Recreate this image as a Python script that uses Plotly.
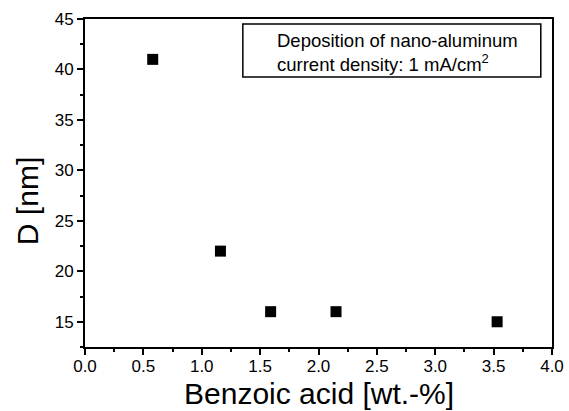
import plotly.graph_objects as go

benzoic_acid = [0.58, 1.16, 1.59, 2.15, 3.53]
diameter_nm = [41, 22, 16, 16, 15]

x_tick_vals = [0.0, 0.5, 1.0, 1.5, 2.0, 2.5, 3.0, 3.5, 4.0]
x_tick_text = ["0.0", "0.5", "1.0", "1.5", "2.0", "2.5", "3.0", "3.5", "4.0"]
y_tick_vals = [15, 20, 25, 30, 35, 40, 45]
y_tick_text = ["15", "20", "25", "30", "35", "40", "45"]

FONT = "Liberation Sans, Arial, sans-serif"

fig = go.Figure()
fig.add_trace(go.Scatter(
    x=benzoic_acid, y=diameter_nm, mode="markers",
    marker=dict(symbol="square", size=11, color="black"),
    showlegend=False, hoverinfo="skip",
))

axis_common = dict(
    showline=True, linecolor="black", linewidth=2, mirror=True,
    ticks="outside", ticklen=6, tickwidth=2, tickcolor="black",
    showgrid=False, zeroline=False, automargin=False,
    tickfont=dict(family=FONT, size=17, color="black"),
)

fig.update_xaxes(
    range=[0, 4], tickvals=x_tick_vals, ticktext=x_tick_text,
    minor=dict(ticks="outside", ticklen=3, tickwidth=2, tickcolor="black", dtick=0.25),
    ticklabelstandoff=-3,
    **axis_common,
)
fig.update_yaxes(
    range=[12.5, 45], tickvals=y_tick_vals, ticktext=y_tick_text,
    minor=dict(ticks="outside", ticklen=3, tickwidth=2, tickcolor="black", dtick=2.5),
    **axis_common,
)

# axis titles as annotations (positions matched to the reference)
fig.add_annotation(
    xref="paper", yref="paper", x=0.5, y=-0.195, xanchor="center", yanchor="bottom",
    text="Benzoic acid [wt.-%]", showarrow=False, borderpad=0,
    font=dict(family=FONT, size=30, color="black"),
)
fig.add_annotation(
    xref="paper", yref="paper", x=-0.124, y=0.445, xanchor="center", yanchor="middle",
    text="D [nm]", textangle=-90, showarrow=False,
    font=dict(family=FONT, size=30, color="black"),
)

fig.add_shape(type="rect", xref="paper", yref="paper",
              x0=0.338, x1=0.976, y0=0.823, y1=0.985,
              line=dict(color="black", width=1.5), fillcolor="white")
fig.add_annotation(
    xref="paper", yref="paper", x=0.407, y=0.898, xanchor="left", yanchor="middle",
    text="Deposition of nano-aluminum<br>current density: 1 mA/cm<sup>2</sup>",
    showarrow=False, align="left",
    font=dict(family=FONT, size=18.5, color="black"),
)

fig.update_layout(
    width=569, height=411,
    margin=dict(l=85, r=17, t=19, b=64),
    paper_bgcolor="white", plot_bgcolor="white",
)

fig.write_html(
    "out.html",
    config=dict(displayModeBar=False, staticPlot=True),
    post_script="document.body.style.margin='0';document.body.style.overflow='hidden';",
)
